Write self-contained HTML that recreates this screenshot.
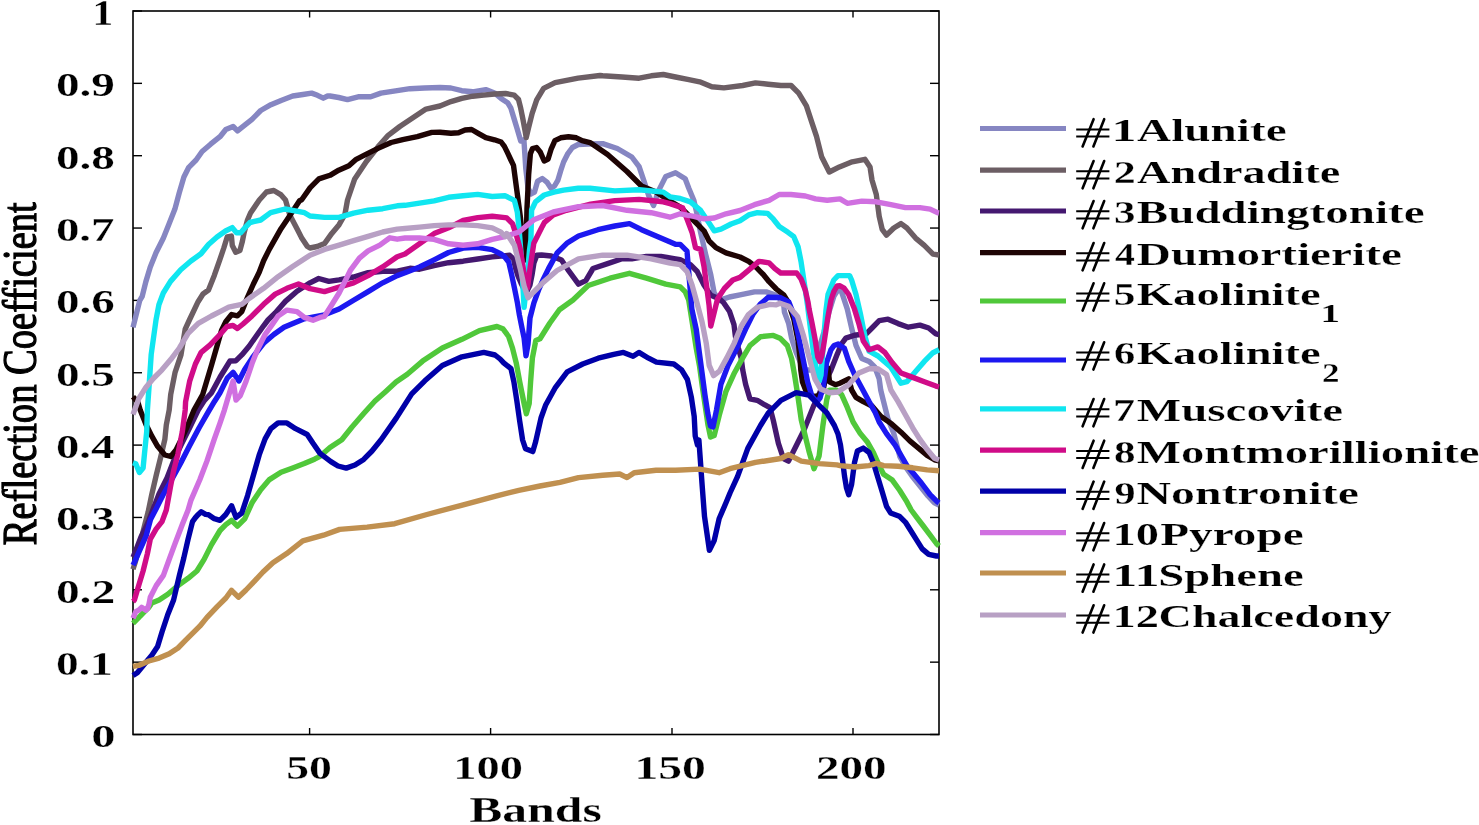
<!DOCTYPE html>
<html><head><meta charset="utf-8"><style>
html,body{margin:0;padding:0;background:#fff;}
svg{display:block;will-change:transform;}
text{font-family:"Liberation Serif",serif;}
</style></head><body>
<svg width="1479" height="825" viewBox="0 0 1479 825">
<rect width="1479" height="825" fill="#fff"/>
<rect x="133.0" y="11.0" width="806.0" height="723.5" fill="none" stroke="#000" stroke-width="1.6"/>
<line x1="309.60" y1="734.5" x2="309.60" y2="728.0" stroke="#000" stroke-width="1.4"/>
<line x1="309.60" y1="11.0" x2="309.60" y2="17.5" stroke="#000" stroke-width="1.4"/>
<line x1="490.60" y1="734.5" x2="490.60" y2="728.0" stroke="#000" stroke-width="1.4"/>
<line x1="490.60" y1="11.0" x2="490.60" y2="17.5" stroke="#000" stroke-width="1.4"/>
<line x1="672.00" y1="734.5" x2="672.00" y2="728.0" stroke="#000" stroke-width="1.4"/>
<line x1="672.00" y1="11.0" x2="672.00" y2="17.5" stroke="#000" stroke-width="1.4"/>
<line x1="853.00" y1="734.5" x2="853.00" y2="728.0" stroke="#000" stroke-width="1.4"/>
<line x1="853.00" y1="11.0" x2="853.00" y2="17.5" stroke="#000" stroke-width="1.4"/>
<line x1="133.0" y1="734.50" x2="142.0" y2="734.50" stroke="#000" stroke-width="1.4"/>
<line x1="939.0" y1="734.50" x2="930.0" y2="734.50" stroke="#000" stroke-width="1.4"/>
<line x1="133.0" y1="662.15" x2="142.0" y2="662.15" stroke="#000" stroke-width="1.4"/>
<line x1="939.0" y1="662.15" x2="930.0" y2="662.15" stroke="#000" stroke-width="1.4"/>
<line x1="133.0" y1="589.80" x2="142.0" y2="589.80" stroke="#000" stroke-width="1.4"/>
<line x1="939.0" y1="589.80" x2="930.0" y2="589.80" stroke="#000" stroke-width="1.4"/>
<line x1="133.0" y1="517.45" x2="142.0" y2="517.45" stroke="#000" stroke-width="1.4"/>
<line x1="939.0" y1="517.45" x2="930.0" y2="517.45" stroke="#000" stroke-width="1.4"/>
<line x1="133.0" y1="445.10" x2="142.0" y2="445.10" stroke="#000" stroke-width="1.4"/>
<line x1="939.0" y1="445.10" x2="930.0" y2="445.10" stroke="#000" stroke-width="1.4"/>
<line x1="133.0" y1="372.75" x2="142.0" y2="372.75" stroke="#000" stroke-width="1.4"/>
<line x1="939.0" y1="372.75" x2="930.0" y2="372.75" stroke="#000" stroke-width="1.4"/>
<line x1="133.0" y1="300.40" x2="142.0" y2="300.40" stroke="#000" stroke-width="1.4"/>
<line x1="939.0" y1="300.40" x2="930.0" y2="300.40" stroke="#000" stroke-width="1.4"/>
<line x1="133.0" y1="228.05" x2="142.0" y2="228.05" stroke="#000" stroke-width="1.4"/>
<line x1="939.0" y1="228.05" x2="930.0" y2="228.05" stroke="#000" stroke-width="1.4"/>
<line x1="133.0" y1="155.70" x2="142.0" y2="155.70" stroke="#000" stroke-width="1.4"/>
<line x1="939.0" y1="155.70" x2="930.0" y2="155.70" stroke="#000" stroke-width="1.4"/>
<line x1="133.0" y1="83.35" x2="142.0" y2="83.35" stroke="#000" stroke-width="1.4"/>
<line x1="939.0" y1="83.35" x2="930.0" y2="83.35" stroke="#000" stroke-width="1.4"/>
<line x1="133.0" y1="11.00" x2="142.0" y2="11.00" stroke="#000" stroke-width="1.4"/>
<line x1="939.0" y1="11.00" x2="930.0" y2="11.00" stroke="#000" stroke-width="1.4"/>
<path d="M133.0,327.3 L139.7,300.6 L142.2,296.4 L145.8,281.9 L150.2,267.3 L156.0,252.8 L163.3,238.2 L169.1,223.7 L174.9,209.1 L179.2,193.0 L183.9,177.0 L188.8,167.3 L196.1,160.0 L202.1,151.5 L210.6,144.2 L220.0,136.7 L225.8,129.5 L233.1,126.5 L237.5,130.9 L244.7,125.1 L252.0,119.3 L260.7,110.5 L270.9,104.7 L281.1,100.4 L292.7,96.0 L302.9,94.5 L311.6,93.1 L317.5,95.3 L323.3,98.2 L327.6,96.0 L330.0,96.0 L338.7,97.5 L347.5,99.6 L359.1,96.7 L370.7,96.7 L380.9,93.1 L395.5,90.9 L410.0,88.7 L424.5,88.0 L440.0,87.5 L450.9,88.0 L461.8,90.7 L472.7,91.8 L485.8,89.6 L494.5,92.9 L501.1,98.4 L507.6,102.7 L510.9,108.2 L514.2,119.1 L517.5,130.0 L520.7,140.9 L523.9,139.7 L525.8,168.8 L528.0,188.0 L531.0,194.0 L534.5,192.1 L537.5,181.4 L542.3,178.5 L547.2,182.4 L551.0,188.2 L554.5,186.0 L557.8,180.4 L560.7,170.7 L563.6,162.0 L567.5,154.2 L572.4,147.5 L578.2,144.5 L587.9,144.0 L602.7,143.6 L617.3,148.5 L631.8,157.0 L639.1,166.7 L644.0,181.2 L648.8,195.8 L653.6,205.5 L658.5,190.9 L665.8,176.4 L675.5,172.7 L685.2,178.8 L688.7,188.0 L693.8,200.2 L697.0,214.0 L700.6,232.5 L705.7,254.5 L710.8,274.9 L714.2,293.0 L719.3,300.4 L729.4,297.0 L740.0,294.8 L754.5,291.9 L766.2,291.9 L774.9,294.8 L781.0,300.0 L783.4,301.1 L784.4,312.0 L788.7,323.6 L791.6,338.2 L796.0,352.0 L801.0,364.0 L806.0,370.0 L811.0,370.0 L816.0,360.0 L820.0,345.0 L824.0,332.0 L829.0,312.0 L834.0,296.0 L838.5,289.0 L841.5,291.6 L847.3,309.1 L851.6,328.0 L856.0,345.4 L861.8,358.5 L869.1,361.4 L874.9,367.2 L879.2,378.8 L880.7,390.0 L883.6,401.6 L888.0,419.1 L893.8,433.6 L900.0,457.0 L906.0,467.5 L912.0,476.0 L920.0,486.0 L928.0,496.0 L934.0,502.5 L939.0,505.0" fill="none" stroke="#8686c2" stroke-width="5.4" stroke-linejoin="round" stroke-linecap="butt"/>
<path d="M133.0,569.3 L135.0,563.0 L138.5,550.0 L142.0,536.0 L145.0,524.0 L148.2,511.7 L151.8,494.3 L156.2,475.4 L160.5,458.0 L164.9,439.1 L166.3,425.0 L169.2,410.0 L170.7,394.5 L175.0,372.7 L180.9,355.2 L185.2,329.1 L189.4,320.0 L198.1,301.7 L203.0,294.0 L208.5,290.0 L214.4,275.2 L219.5,260.7 L223.8,248.0 L227.2,237.0 L231.4,236.1 L232.3,245.5 L235.7,252.3 L239.9,250.6 L242.4,241.2 L244.1,232.7 L247.5,220.0 L250.5,213.0 L259.3,200.0 L266.5,192.0 L273.8,190.5 L281.1,194.9 L285.5,200.0 L289.8,215.0 L297.0,228.7 L301.4,237.4 L307.2,246.2 L310.0,248.0 L317.3,246.5 L324.5,243.6 L331.8,233.4 L339.1,224.7 L344.9,214.5 L347.5,200.0 L354.7,178.9 L366.4,161.5 L378.0,146.9 L388.2,135.3 L399.8,126.5 L412.9,117.8 L426.0,109.1 L440.0,106.0 L450.9,101.6 L461.8,98.4 L472.7,96.2 L483.6,95.1 L494.5,94.0 L505.5,93.5 L514.2,95.1 L518.5,99.5 L520.7,108.2 L522.9,119.1 L525.1,131.1 L526.2,137.6 L528.6,127.6 L532.1,113.7 L536.7,99.9 L543.6,88.4 L555.1,82.7 L578.1,78.1 L600.0,75.5 L602.7,75.8 L622.1,77.0 L639.1,78.2 L651.2,75.8 L663.3,74.5 L675.5,77.0 L687.6,79.4 L699.7,81.8 L711.8,86.7 L723.9,87.9 L742.7,85.5 L755.5,82.9 L768.2,84.2 L780.9,85.5 L791.1,85.5 L798.7,93.1 L806.4,105.8 L811.4,121.1 L816.5,136.4 L821.6,156.7 L829.3,172.0 L839.4,166.9 L852.2,161.8 L864.9,159.3 L870.0,166.9 L872.0,180.0 L876.3,194.5 L879.2,216.3 L882.2,229.4 L886.5,235.2 L893.8,228.0 L901.0,223.6 L906.9,228.0 L915.6,238.1 L924.3,245.4 L933.0,254.1 L939.0,255.0" fill="none" stroke="#6c5e64" stroke-width="5.4" stroke-linejoin="round" stroke-linecap="butt"/>
<path d="M133.0,557.2 L136.0,550.0 L141.0,537.0 L146.0,527.0 L149.0,520.0 L154.0,507.0 L159.0,494.0 L163.0,486.0 L167.0,478.0 L174.0,460.0 L181.0,445.0 L190.0,427.0 L198.2,410.0 L204.0,401.0 L211.4,393.0 L220.1,377.0 L230.0,361.0 L236.0,360.7 L241.8,354.9 L249.1,346.2 L256.3,336.0 L263.6,325.8 L268.0,320.0 L275.2,313.0 L285.4,301.4 L297.0,291.2 L310.0,282.8 L318.7,278.5 L328.9,281.4 L339.1,279.9 L353.6,277.0 L368.1,272.7 L382.7,271.2 L397.2,271.2 L410.0,268.3 L419.5,269.2 L434.1,265.6 L448.6,262.7 L463.1,261.2 L477.7,259.0 L492.2,256.9 L500.9,256.1 L509.7,255.3 L513.6,259.2 L515.5,268.0 L518.0,276.0 L521.0,283.0 L524.0,289.0 L527.0,291.0 L530.0,285.0 L532.0,275.0 L533.9,263.0 L536.8,255.3 L541.6,255.0 L551.3,256.0 L561.5,260.0 L568.8,270.9 L578.5,284.2 L585.8,280.6 L593.0,268.5 L607.6,263.6 L622.1,258.8 L631.8,258.8 L646.4,256.4 L660.9,256.4 L675.5,258.8 L680.2,259.6 L690.4,264.7 L697.2,271.5 L704.0,285.1 L710.8,295.3 L719.3,298.7 L723.8,302.9 L729.6,311.6 L734.0,324.7 L735.4,336.3 L738.3,348.0 L741.2,358.1 L742.7,369.8 L745.6,384.3 L749.9,398.8 L757.2,400.3 L764.5,404.7 L770.0,407.6 L773.3,420.4 L778.4,443.3 L783.4,458.5 L788.5,461.1 L796.2,445.8 L803.8,430.5 L808.9,417.8 L814.0,405.1 L820.0,392.0 L830.9,370.2 L836.7,355.6 L841.5,344.0 L845.8,338.1 L854.5,335.2 L866.2,333.8 L872.0,328.0 L879.2,320.7 L888.0,319.2 L898.1,323.6 L908.3,327.2 L919.9,325.1 L928.7,328.0 L935.9,333.8 L939.0,334.5" fill="none" stroke="#441870" stroke-width="5.4" stroke-linejoin="round" stroke-linecap="butt"/>
<path d="M133.0,396.8 L138.0,402.6 L140.2,410.0 L146.0,424.5 L151.8,436.2 L157.6,446.3 L164.9,455.0 L170.7,456.5 L176.0,450.0 L181.0,440.0 L187.0,427.0 L194.0,410.0 L202.7,394.5 L211.4,365.4 L221.5,330.5 L225.8,321.7 L231.6,314.5 L237.4,315.9 L241.8,311.6 L247.6,297.0 L253.4,284.0 L259.2,272.3 L263.6,260.7 L269.4,249.1 L275.2,238.9 L281.0,228.7 L286.9,220.0 L299.7,200.6 L301.5,200.0 L310.2,187.6 L318.9,178.9 L330.0,175.3 L338.7,170.2 L348.9,165.8 L356.2,159.3 L366.4,154.2 L378.0,148.4 L391.1,142.5 L402.7,139.6 L417.3,136.7 L431.8,132.4 L440.0,132.2 L450.9,133.3 L458.5,132.7 L465.1,130.0 L471.6,129.5 L478.2,133.3 L485.8,137.6 L494.5,139.8 L501.1,142.0 L504.4,146.4 L507.6,152.9 L510.9,160.0 L513.5,165.4 L516.9,190.8 L520.3,216.3 L522.8,241.7 L524.5,258.6 L525.3,260.0 L526.2,241.7 L527.0,207.8 L528.7,173.9 L530.4,153.6 L532.5,148.5 L536.5,147.5 L540.4,152.3 L544.2,161.0 L548.1,159.1 L551.0,149.4 L554.9,140.7 L560.7,137.8 L568.5,136.8 L576.3,137.8 L582.1,140.7 L590.0,142.6 L607.6,154.5 L627.0,171.5 L641.5,186.0 L656.0,192.0 L670.0,201.0 L680.2,207.0 L688.7,215.5 L697.2,224.0 L704.0,230.8 L709.1,241.0 L715.9,247.7 L726.0,252.8 L740.0,257.0 L748.7,261.4 L756.0,267.2 L763.3,274.5 L769.1,281.7 L776.3,289.0 L783.6,294.8 L788.0,301.6 L793.8,319.1 L798.1,340.9 L800.0,358.0 L800.8,370.0 L802.5,382.0 L806.0,391.0 L812.0,396.5 L818.0,396.0 L823.0,391.0 L826.5,372.0 L828.0,368.0 L829.5,381.8 L835.3,384.7 L840.0,383.2 L848.7,378.8 L851.6,390.0 L856.0,397.3 L863.3,401.6 L872.0,406.0 L880.7,416.2 L890.9,423.4 L901.0,432.2 L909.8,440.9 L918.5,448.1 L927.2,455.4 L934.5,459.8 L939.0,461.0" fill="none" stroke="#1e0404" stroke-width="5.4" stroke-linejoin="round" stroke-linecap="butt"/>
<path d="M133.0,623.3 L138.7,617.6 L140.2,616.0 L144.5,611.7 L148.9,607.3 L151.8,603.0 L159.1,600.0 L167.8,594.3 L178.0,585.6 L188.1,578.3 L196.9,571.0 L204.1,559.4 L211.4,544.9 L220.0,530.5 L225.8,524.7 L231.6,520.3 L237.4,526.1 L244.7,518.8 L252.0,502.8 L260.7,489.8 L269.4,479.6 L281.0,472.3 L292.7,468.0 L304.3,463.6 L314.5,459.2 L320.0,456.3 L330.0,447.5 L341.8,439.7 L352.0,427.0 L363.7,413.5 L375.0,401.0 L385.5,391.7 L396.0,382.0 L407.3,374.2 L422.6,361.1 L442.3,348.0 L461.9,339.3 L479.4,330.6 L497.0,326.5 L502.8,328.7 L508.6,336.5 L512.5,348.2 L516.4,363.7 L519.7,381.8 L524.1,403.6 L526.3,413.8 L529.2,403.6 L530.6,381.8 L532.4,358.0 L535.8,340.4 L540.0,338.8 L549.7,323.3 L559.4,309.7 L573.0,300.0 L588.2,285.5 L610.0,278.2 L629.4,273.3 L646.4,278.2 L665.8,284.2 L680.2,286.8 L685.3,291.9 L688.7,300.0 L693.3,329.1 L696.2,348.0 L699.5,366.0 L702.5,388.0 L705.5,408.0 L708.0,425.0 L710.5,437.0 L714.2,435.5 L719.3,415.1 L726.0,391.3 L734.5,372.7 L743.0,357.4 L750.0,345.5 L760.5,336.7 L773.3,335.4 L780.0,338.2 L787.3,345.5 L791.6,358.5 L794.5,374.5 L797.5,393.5 L801.3,420.0 L808.9,450.9 L814.0,468.7 L819.1,456.0 L822.9,425.5 L826.7,400.0 L829.3,390.2 L836.9,390.2 L841.5,394.4 L847.3,407.4 L853.1,422.0 L860.3,433.6 L867.6,442.3 L873.4,452.5 L879.2,465.6 L883.6,474.3 L892.3,480.1 L899.6,490.3 L906.9,501.9 L911.2,510.0 L916.7,517.3 L923.3,526.0 L929.8,534.7 L936.4,543.5 L939.0,546.0" fill="none" stroke="#50c83a" stroke-width="5.4" stroke-linejoin="round" stroke-linecap="butt"/>
<path d="M133.0,565.1 L134.4,562.3 L140.2,549.2 L146.0,536.2 L150.5,519.5 L156.0,509.0 L163.0,495.0 L172.0,479.0 L180.5,463.5 L188.9,447.0 L199.0,428.0 L208.4,411.7 L214.3,401.7 L220.0,392.7 L227.3,378.1 L233.1,372.3 L238.9,381.0 L244.7,369.4 L253.4,356.3 L263.6,343.3 L273.8,334.5 L284.0,327.3 L294.1,322.9 L304.3,318.8 L310.0,317.7 L324.5,314.8 L339.1,309.0 L353.6,300.3 L368.1,291.6 L382.7,282.8 L397.2,275.6 L405.0,272.8 L419.5,267.0 L434.1,259.8 L448.6,252.5 L463.1,248.1 L477.7,247.4 L492.2,249.6 L500.9,254.0 L504.8,257.0 L508.7,262.0 L511.6,274.5 L514.5,288.3 L517.4,302.8 L519.4,315.0 L522.0,328.0 L524.1,338.0 L526.0,355.9 L528.0,344.3 L530.0,318.0 L533.9,302.8 L538.8,289.3 L543.6,278.6 L548.4,268.9 L557.1,253.0 L566.8,243.3 L578.5,236.0 L597.9,229.7 L614.8,226.0 L629.4,223.6 L641.5,229.7 L658.5,237.0 L675.5,244.2 L680.2,244.4 L687.0,251.1 L691.8,308.7 L696.2,329.1 L699.1,350.9 L702.0,372.7 L704.9,394.5 L707.8,413.4 L710.5,426.0 L713.0,427.0 L716.5,410.0 L720.9,384.3 L728.1,365.4 L736.9,348.0 L745.6,329.1 L752.8,314.5 L760.1,304.4 L768.2,297.3 L780.0,297.5 L788.7,301.8 L794.5,316.4 L798.9,338.2 L803.3,360.0 L807.6,381.8 L812.0,396.4 L817.0,402.0 L820.0,398.0 L823.6,384.7 L826.5,362.9 L830.9,349.8 L834.0,345.5 L838.2,344.0 L840.0,345.4 L844.4,348.3 L848.7,361.4 L854.5,374.5 L861.8,388.0 L869.1,401.6 L874.9,411.8 L879.2,422.0 L886.5,433.6 L895.2,445.2 L901.0,455.4 L906.9,465.6 L914.1,474.3 L921.4,483.0 L930.1,494.7 L937.4,501.9 L939.0,503.0" fill="none" stroke="#1c18f0" stroke-width="5.4" stroke-linejoin="round" stroke-linecap="butt"/>
<path d="M133.0,462.8 L135.8,463.8 L139.4,472.5 L143.1,468.1 L144.5,453.6 L146.7,431.8 L147.4,410.0 L149.0,387.3 L151.2,354.5 L156.0,320.0 L158.9,304.7 L163.3,293.0 L170.5,281.4 L180.7,269.8 L190.9,261.0 L201.0,253.8 L208.5,244.5 L217.0,237.0 L225.5,231.0 L232.3,227.6 L236.5,232.7 L240.7,232.7 L245.8,226.8 L250.0,222.5 L260.7,220.0 L270.6,212.7 L285.0,209.0 L304.5,212.7 L310.0,216.0 L324.5,217.4 L339.1,217.4 L353.6,213.1 L368.1,210.2 L382.7,208.7 L397.2,205.8 L405.0,205.3 L419.5,203.1 L434.1,200.9 L448.6,197.3 L463.1,195.8 L477.7,194.4 L492.2,196.5 L505.0,195.8 L506.7,196.5 L514.4,200.4 L517.3,212.0 L519.3,231.5 L521.5,260.0 L524.1,307.4 L527.0,280.0 L529.5,250.0 L530.9,240.0 L531.6,210.0 L535.5,201.8 L544.2,195.0 L553.9,192.1 L563.6,190.1 L578.2,188.2 L590.0,188.2 L614.8,190.9 L639.1,189.7 L663.3,192.1 L670.0,196.8 L680.2,198.5 L690.4,201.9 L700.6,210.4 L707.4,220.6 L714.2,230.8 L721.0,229.1 L731.1,224.0 L740.0,220.7 L748.7,214.9 L757.4,212.7 L767.6,213.4 L773.4,219.2 L779.2,226.5 L788.0,232.3 L793.8,236.7 L798.1,246.9 L801.0,261.4 L803.2,275.9 L805.4,290.5 L807.5,305.0 L810.0,325.0 L813.5,352.7 L816.5,370.0 L819.3,381.0 L821.0,375.0 L823.6,340.0 L826.0,310.0 L828.0,294.5 L833.8,280.0 L838.0,275.6 L842.0,275.6 L849.6,275.6 L851.6,280.0 L856.0,294.5 L860.3,313.4 L864.7,335.2 L869.1,351.2 L878.0,356.0 L890.9,367.2 L901.0,383.2 L906.9,381.7 L915.6,371.6 L924.3,361.4 L933.0,352.7 L939.0,349.8" fill="none" stroke="#10e6f0" stroke-width="5.4" stroke-linejoin="round" stroke-linecap="butt"/>
<path d="M133.0,601.5 L134.4,600.1 L138.7,585.6 L143.1,571.0 L147.4,553.6 L150.3,539.1 L156.2,528.9 L162.0,521.6 L166.3,510.0 L170.7,485.6 L173.6,471.0 L178.0,453.6 L182.3,431.8 L185.2,410.0 L185.6,401.7 L189.6,381.4 L195.4,364.0 L201.2,352.3 L209.9,345.1 L220.0,334.5 L227.0,326.5 L233.0,325.5 L237.4,328.5 L243.0,324.0 L252.0,315.9 L263.6,304.3 L275.2,294.1 L286.9,288.3 L298.5,284.0 L310.0,288.7 L324.5,291.6 L339.1,287.2 L353.6,282.8 L368.1,275.6 L382.7,266.9 L397.2,256.7 L405.0,254.0 L419.5,243.8 L434.1,233.6 L448.6,227.8 L463.1,220.5 L477.7,217.6 L492.2,216.2 L505.0,217.6 L506.7,217.9 L512.5,223.7 L516.4,235.3 L520.2,249.0 L523.5,270.0 L526.0,286.0 L527.5,288.0 L530.0,268.5 L533.8,243.3 L541.6,227.8 L544.5,222.4 L553.3,215.0 L566.4,210.3 L590.6,204.2 L614.8,200.6 L639.1,199.4 L663.3,201.8 L670.0,203.6 L682.7,207.9 L687.0,218.9 L692.1,232.5 L695.5,247.7 L700.6,249.4 L704.0,266.4 L706.5,285.1 L709.1,305.5 L710.8,326.0 L714.2,312.3 L717.6,298.7 L724.4,288.5 L732.8,280.0 L740.0,277.4 L748.7,270.1 L758.9,261.4 L769.1,262.8 L774.9,268.7 L780.7,273.0 L789.4,273.0 L796.7,273.0 L801.0,278.8 L805.4,290.5 L808.0,302.0 L809.1,309.1 L812.0,323.0 L814.9,338.2 L817.8,357.1 L820.0,361.5 L822.0,355.0 L823.6,345.5 L828.0,316.4 L831.0,300.0 L833.8,291.6 L837.0,286.0 L840.0,285.8 L844.0,288.0 L848.7,294.5 L854.5,309.1 L858.9,323.6 L863.3,341.0 L869.1,349.8 L877.8,346.9 L885.1,352.7 L892.3,362.8 L901.0,373.0 L912.7,377.4 L924.3,381.7 L935.9,386.1 L939.0,387.0" fill="none" stroke="#d00c88" stroke-width="5.4" stroke-linejoin="round" stroke-linecap="butt"/>
<path d="M133.0,675.5 L137.3,672.7 L144.5,664.0 L151.8,655.2 L157.6,646.5 L162.0,632.0 L167.8,614.5 L173.6,600.0 L179.4,575.4 L183.8,558.0 L188.1,539.1 L192.5,521.6 L195.4,517.6 L198.3,514.4 L201.2,511.7 L205.6,514.4 L208.5,514.7 L214.3,518.7 L220.0,520.3 L225.8,514.5 L231.6,505.8 L236.0,517.4 L241.8,513.0 L247.6,495.6 L253.4,475.2 L259.2,454.9 L265.1,438.9 L270.9,428.7 L278.1,422.9 L286.9,422.9 L295.6,428.7 L307.2,434.5 L313.0,443.3 L320.0,453.4 L330.9,461.6 L338.0,466.0 L346.2,468.1 L355.0,465.0 L363.7,459.4 L372.0,451.0 L381.1,439.7 L396.4,417.9 L411.7,393.9 L424.8,380.8 L442.3,365.5 L461.9,356.8 L483.8,352.4 L495.0,355.0 L500.1,359.0 L503.7,362.9 L511.0,368.7 L513.9,381.8 L516.8,400.7 L519.7,421.1 L522.6,440.0 L525.5,448.7 L532.8,451.6 L535.7,441.5 L538.3,430.0 L541.0,418.0 L545.8,404.7 L555.5,387.3 L567.2,371.8 L582.7,364.0 L598.2,358.2 L613.7,354.3 L623.4,352.4 L633.1,356.2 L638.9,352.4 L648.6,358.2 L656.4,362.1 L673.8,364.0 L681.6,369.8 L687.4,379.5 L691.3,397.0 L694.2,416.4 L695.2,435.8 L697.5,445.0 L698.9,440.0 L702.1,484.8 L704.5,516.4 L709.4,550.3 L714.2,540.6 L719.1,518.8 L726.4,501.8 L730.0,493.0 L737.6,476.4 L747.8,448.4 L760.5,425.5 L768.2,413.1 L780.9,400.3 L796.2,392.7 L808.9,395.2 L819.1,405.4 L826.7,412.7 L834.4,425.5 L838.0,434.0 L840.5,445.0 L842.5,460.0 L844.5,476.0 L846.5,488.0 L848.7,494.7 L851.6,484.5 L854.5,462.7 L857.4,451.0 L863.3,448.1 L869.1,452.5 L873.4,462.7 L877.8,477.2 L882.2,491.7 L886.5,506.3 L890.6,512.9 L899.3,516.2 L905.8,522.7 L911.3,531.5 L916.7,540.2 L922.2,548.9 L928.7,554.4 L936.4,556.0 L939.0,556.0" fill="none" stroke="#0000a8" stroke-width="5.4" stroke-linejoin="round" stroke-linecap="butt"/>
<path d="M133.0,618.3 L135.8,611.7 L138.7,610.2 L141.6,607.4 L146.0,610.2 L147.4,608.8 L148.9,604.4 L150.3,597.2 L156.2,585.6 L163.4,575.4 L169.2,559.4 L175.1,543.4 L182.3,524.5 L188.1,510.0 L191.0,500.1 L199.8,479.8 L207.0,460.9 L214.3,439.1 L220.0,423.2 L224.4,410.1 L228.7,395.6 L233.1,381.0 L236.0,400.0 L240.3,395.6 L246.2,381.0 L252.0,363.6 L257.8,349.1 L265.1,334.5 L272.3,324.4 L278.1,315.9 L286.9,310.1 L297.0,311.6 L304.3,317.4 L313.0,320.3 L320.0,317.4 L324.5,316.3 L331.8,304.7 L339.1,293.0 L344.9,281.4 L350.7,269.8 L359.4,258.1 L368.1,250.9 L379.8,245.1 L389.9,237.8 L397.2,239.2 L405.0,238.0 L419.5,238.0 L434.1,239.4 L448.6,243.8 L463.1,245.2 L477.7,243.8 L492.2,239.4 L505.0,236.5 L519.0,232.0 L533.8,219.8 L553.3,212.0 L578.5,206.7 L602.7,205.5 L627.0,210.3 L651.2,212.7 L670.0,217.2 L680.2,213.8 L693.8,216.3 L704.0,218.9 L714.2,218.0 L726.0,213.8 L740.0,210.5 L754.5,204.7 L769.1,200.3 L779.2,194.5 L790.9,194.5 L805.4,196.0 L815.6,198.9 L827.2,200.3 L840.0,198.9 L847.3,203.3 L861.8,201.1 L876.3,201.8 L890.9,204.7 L905.4,207.6 L919.9,207.6 L930.1,209.1 L937.4,212.7 L939.0,213.0" fill="none" stroke="#d070e0" stroke-width="5.4" stroke-linejoin="round" stroke-linecap="butt"/>
<path d="M133.0,666.4 L138.7,665.4 L148.9,661.0 L159.1,658.1 L169.2,653.8 L178.0,648.0 L185.2,640.7 L192.5,633.4 L199.8,626.2 L207.0,617.4 L217.2,606.6 L225.9,598.0 L231.5,590.3 L238.4,597.2 L246.0,590.0 L254.5,581.1 L263.0,572.0 L272.9,562.8 L286.7,553.6 L302.8,540.9 L323.5,535.2 L339.6,529.4 L367.1,527.1 L394.7,523.7 L426.9,514.5 L461.4,505.3 L495.8,496.1 L518.8,490.3 L540.0,486.0 L560.0,482.3 L578.5,477.6 L602.7,475.2 L619.7,474.0 L627.0,477.6 L634.2,472.7 L656.0,470.3 L675.5,470.3 L699.7,469.1 L719.1,472.7 L730.0,468.7 L755.5,462.4 L780.9,458.5 L788.5,454.7 L801.3,461.1 L819.1,463.6 L836.9,464.9 L840.0,465.6 L854.5,467.0 L869.1,465.6 L876.3,463.4 L883.6,465.6 L898.1,466.3 L912.7,467.8 L927.2,469.9 L939.0,470.7" fill="none" stroke="#c09050" stroke-width="5.4" stroke-linejoin="round" stroke-linecap="butt"/>
<path d="M133.0,414.5 L138.7,398.8 L146.0,387.2 L153.3,378.5 L162.0,369.8 L170.7,359.6 L179.4,348.0 L188.1,333.4 L198.3,323.3 L211.4,316.0 L220.0,311.6 L228.7,307.2 L234.5,305.8 L241.8,304.3 L249.1,298.5 L263.6,288.3 L278.1,276.7 L292.7,266.5 L310.0,255.2 L324.5,249.4 L339.1,245.1 L353.6,240.7 L368.1,236.3 L382.7,232.0 L397.2,229.1 L405.0,228.5 L419.5,227.1 L434.1,225.6 L448.6,224.9 L463.1,224.9 L477.7,225.6 L492.2,227.8 L500.9,232.2 L505.0,236.5 L506.7,233.6 L514.4,245.2 L520.2,268.5 L524.1,286.0 L528.0,297.7 L533.8,291.8 L543.5,282.1 L557.1,270.5 L578.5,258.8 L602.7,255.2 L627.0,255.2 L651.2,258.8 L670.0,263.0 L680.2,264.7 L687.0,271.5 L692.1,285.1 L696.2,300.0 L702.0,321.8 L706.3,343.6 L709.2,365.4 L713.6,375.6 L719.4,371.2 L726.7,358.1 L734.0,343.6 L741.2,326.2 L748.5,314.5 L757.2,307.3 L770.0,304.4 L775.8,304.9 L780.0,303.3 L788.7,306.2 L797.5,316.4 L803.3,335.3 L809.1,357.1 L814.9,378.9 L820.7,389.1 L829.5,392.7 L838.2,392.0 L840.0,390.5 L848.7,384.7 L858.9,373.0 L869.1,368.7 L877.8,368.7 L886.5,374.5 L890.9,390.0 L898.1,401.6 L905.4,414.7 L912.7,427.8 L919.9,439.4 L927.2,449.6 L934.5,458.3 L939.0,460.0" fill="none" stroke="#b8a0c4" stroke-width="5.4" stroke-linejoin="round" stroke-linecap="butt"/>
<text transform="translate(55.99,674.95) scale(0.4534,0.3333)" font-size="100" font-weight="bold" fill="#000" stroke="#fff" stroke-width="0.76" >0.1</text>
<text transform="translate(55.90,602.60) scale(0.4744,0.3333)" font-size="100" font-weight="bold" fill="#000" stroke="#fff" stroke-width="0.74" >0.2</text>
<text transform="translate(55.91,530.25) scale(0.4723,0.3333)" font-size="100" font-weight="bold" fill="#000" stroke="#fff" stroke-width="0.74" >0.3</text>
<text transform="translate(55.93,457.90) scale(0.4664,0.3333)" font-size="100" font-weight="bold" fill="#000" stroke="#fff" stroke-width="0.75" >0.4</text>
<text transform="translate(55.91,385.55) scale(0.4723,0.3333)" font-size="100" font-weight="bold" fill="#000" stroke="#fff" stroke-width="0.74" >0.5</text>
<text transform="translate(55.92,313.20) scale(0.4703,0.3333)" font-size="100" font-weight="bold" fill="#000" stroke="#fff" stroke-width="0.75" >0.6</text>
<text transform="translate(55.93,240.85) scale(0.4684,0.3333)" font-size="100" font-weight="bold" fill="#000" stroke="#fff" stroke-width="0.75" >0.7</text>
<text transform="translate(55.91,168.50) scale(0.4723,0.3333)" font-size="100" font-weight="bold" fill="#000" stroke="#fff" stroke-width="0.74" >0.8</text>
<text transform="translate(55.91,96.15) scale(0.4723,0.3333)" font-size="100" font-weight="bold" fill="#000" stroke="#fff" stroke-width="0.74" >0.9</text>
<text transform="translate(92.49,24.60) scale(0.4135,0.3485)" font-size="100" font-weight="bold" fill="#000" stroke="#fff" stroke-width="0.79" >1</text>
<text transform="translate(91.36,747.00) scale(0.4857,0.3227)" font-size="100" font-weight="bold" fill="#000" stroke="#fff" stroke-width="0.74" >0</text>
<text transform="translate(286.17,778.80) scale(0.4565,0.3455)" font-size="100" font-weight="bold" fill="#000" stroke="#fff" stroke-width="0.75" >50</text>
<text transform="translate(453.29,778.80) scale(0.4638,0.3455)" font-size="100" font-weight="bold" fill="#000" stroke="#fff" stroke-width="0.74" >100</text>
<text transform="translate(634.39,778.80) scale(0.4761,0.3455)" font-size="100" font-weight="bold" fill="#000" stroke="#fff" stroke-width="0.73" >150</text>
<text transform="translate(816.12,778.80) scale(0.4697,0.3455)" font-size="100" font-weight="bold" fill="#000" stroke="#fff" stroke-width="0.74" >200</text>
<text transform="translate(469.26,821.50) scale(0.4966,0.3597)" font-size="100" font-weight="bold" fill="#000" stroke="#fff" stroke-width="0.70" >Bands</text>
<line x1="980" y1="128.5" x2="1066" y2="128.5" stroke="#8686c2" stroke-width="5.2"/>
<path d="M1076.2,129.4H1109.4M1076.2,136.6H1109.4" stroke="#000" stroke-width="2.0" fill="none"/>
<path d="M1093.6,119.2L1082.6,146.5M1104.2,119.2L1093.4,146.5" stroke="#000" stroke-width="2.6" fill="none" stroke-linecap="round"/>
<text transform="translate(1111.50,141.20) scale(0.5000,0.3212)" font-size="100" font-weight="bold" fill="#000" stroke="#fff" stroke-width="0.73" >1</text>
<text transform="translate(1137.03,141.20) scale(0.4727,0.3212)" font-size="100" font-weight="bold" fill="#000" stroke="#fff" stroke-width="0.76" >Alunite</text>
<line x1="980" y1="170.2" x2="1066" y2="170.2" stroke="#6c5e64" stroke-width="5.2"/>
<path d="M1076.2,171.2H1109.4M1076.2,178.4H1109.4" stroke="#000" stroke-width="2.0" fill="none"/>
<path d="M1093.6,161.0L1082.6,188.3M1104.2,161.0L1093.4,188.3" stroke="#000" stroke-width="2.6" fill="none" stroke-linecap="round"/>
<text transform="translate(1113.74,183.00) scale(0.4405,0.3212)" font-size="100" font-weight="bold" fill="#000" stroke="#fff" stroke-width="0.79" >2</text>
<text transform="translate(1137.04,183.00) scale(0.4634,0.3212)" font-size="100" font-weight="bold" fill="#000" stroke="#fff" stroke-width="0.76" >Andradite</text>
<line x1="980" y1="211" x2="1066" y2="211" stroke="#441870" stroke-width="5.2"/>
<path d="M1076.2,211.2H1109.4M1076.2,218.4H1109.4" stroke="#000" stroke-width="2.0" fill="none"/>
<path d="M1093.6,201.0L1082.6,228.3M1104.2,201.0L1093.4,228.3" stroke="#000" stroke-width="2.6" fill="none" stroke-linecap="round"/>
<text transform="translate(1113.99,223.00) scale(0.4302,0.3212)" font-size="100" font-weight="bold" fill="#000" stroke="#fff" stroke-width="0.80" >3</text>
<text transform="translate(1136.79,223.00) scale(0.4711,0.3212)" font-size="100" font-weight="bold" fill="#000" stroke="#fff" stroke-width="0.76" >Buddingtonite</text>
<line x1="980" y1="252.7" x2="1066" y2="252.7" stroke="#1e0404" stroke-width="5.2"/>
<path d="M1076.2,253.2H1109.4M1076.2,260.4H1109.4" stroke="#000" stroke-width="2.0" fill="none"/>
<path d="M1093.6,243.0L1082.6,270.3M1104.2,243.0L1093.4,270.3" stroke="#000" stroke-width="2.6" fill="none" stroke-linecap="round"/>
<text transform="translate(1114.90,265.00) scale(0.3978,0.3212)" font-size="100" font-weight="bold" fill="#000" stroke="#fff" stroke-width="0.83" >4</text>
<text transform="translate(1136.79,265.00) scale(0.4727,0.3212)" font-size="100" font-weight="bold" fill="#000" stroke="#fff" stroke-width="0.76" >Dumortierite</text>
<line x1="980" y1="301" x2="1066" y2="301" stroke="#50c83a" stroke-width="5.2"/>
<path d="M1076.2,293.5H1109.4M1076.2,300.7H1109.4" stroke="#000" stroke-width="2.0" fill="none"/>
<path d="M1093.6,283.3L1082.6,310.6M1104.2,283.3L1093.4,310.6" stroke="#000" stroke-width="2.6" fill="none" stroke-linecap="round"/>
<text transform="translate(1113.76,305.30) scale(0.4353,0.3212)" font-size="100" font-weight="bold" fill="#000" stroke="#fff" stroke-width="0.79" >5</text>
<text transform="translate(1136.80,305.30) scale(0.4666,0.3212)" font-size="100" font-weight="bold" fill="#000" stroke="#fff" stroke-width="0.76" >Kaolinite</text>
<text transform="translate(1320.32,322.00) scale(0.3973,0.2606)" font-size="100" font-weight="bold" fill="#000" stroke="#fff" stroke-width="0.91" >1</text>
<line x1="980" y1="360" x2="1066" y2="360" stroke="#1c18f0" stroke-width="5.2"/>
<path d="M1076.2,352.5H1109.4M1076.2,359.7H1109.4" stroke="#000" stroke-width="2.0" fill="none"/>
<path d="M1093.6,342.3L1082.6,369.6M1104.2,342.3L1093.4,369.6" stroke="#000" stroke-width="2.6" fill="none" stroke-linecap="round"/>
<text transform="translate(1114.01,364.30) scale(0.4253,0.3212)" font-size="100" font-weight="bold" fill="#000" stroke="#fff" stroke-width="0.80" >6</text>
<text transform="translate(1136.80,364.30) scale(0.4666,0.3212)" font-size="100" font-weight="bold" fill="#000" stroke="#fff" stroke-width="0.76" >Kaolinite</text>
<text transform="translate(1322.10,381.80) scale(0.3500,0.2773)" font-size="100" font-weight="bold" fill="#000" stroke="#fff" stroke-width="0.96" >2</text>
<line x1="980" y1="408.8" x2="1066" y2="408.8" stroke="#10e6f0" stroke-width="5.2"/>
<path d="M1076.2,409.2H1109.4M1076.2,416.4H1109.4" stroke="#000" stroke-width="2.0" fill="none"/>
<path d="M1093.6,399.0L1082.6,426.3M1104.2,399.0L1093.4,426.3" stroke="#000" stroke-width="2.6" fill="none" stroke-linecap="round"/>
<text transform="translate(1113.08,421.00) scale(0.4405,0.3212)" font-size="100" font-weight="bold" fill="#000" stroke="#fff" stroke-width="0.79" >7</text>
<text transform="translate(1136.79,421.00) scale(0.4701,0.3212)" font-size="100" font-weight="bold" fill="#000" stroke="#fff" stroke-width="0.76" >Muscovite</text>
<line x1="980" y1="450.2" x2="1066" y2="450.2" stroke="#d00c88" stroke-width="5.2"/>
<path d="M1076.2,450.9H1109.4M1076.2,458.1H1109.4" stroke="#000" stroke-width="2.0" fill="none"/>
<path d="M1093.6,440.7L1082.6,468.0M1104.2,440.7L1093.4,468.0" stroke="#000" stroke-width="2.6" fill="none" stroke-linecap="round"/>
<text transform="translate(1113.99,462.70) scale(0.4302,0.3212)" font-size="100" font-weight="bold" fill="#000" stroke="#fff" stroke-width="0.80" >8</text>
<text transform="translate(1136.80,462.70) scale(0.4674,0.3212)" font-size="100" font-weight="bold" fill="#000" stroke="#fff" stroke-width="0.76" >Montmorillionite</text>
<line x1="980" y1="491.2" x2="1066" y2="491.2" stroke="#0000a8" stroke-width="5.2"/>
<path d="M1076.2,491.8H1109.4M1076.2,499.0H1109.4" stroke="#000" stroke-width="2.0" fill="none"/>
<path d="M1093.6,481.6L1082.6,508.9M1104.2,481.6L1093.4,508.9" stroke="#000" stroke-width="2.6" fill="none" stroke-linecap="round"/>
<text transform="translate(1114.45,503.60) scale(0.4205,0.3212)" font-size="100" font-weight="bold" fill="#000" stroke="#fff" stroke-width="0.81" >9</text>
<text transform="translate(1136.54,503.60) scale(0.4786,0.3212)" font-size="100" font-weight="bold" fill="#000" stroke="#fff" stroke-width="0.75" >Nontronite</text>
<line x1="980" y1="532.6" x2="1066" y2="532.6" stroke="#d070e0" stroke-width="5.2"/>
<path d="M1076.2,533.2H1109.4M1076.2,540.4H1109.4" stroke="#000" stroke-width="2.0" fill="none"/>
<path d="M1093.6,523.0L1082.6,550.3M1104.2,523.0L1093.4,550.3" stroke="#000" stroke-width="2.6" fill="none" stroke-linecap="round"/>
<text transform="translate(1112.48,545.00) scale(0.4648,0.3212)" font-size="100" font-weight="bold" fill="#000" stroke="#fff" stroke-width="0.76" >10</text>
<text transform="translate(1160.19,545.00) scale(0.4727,0.3212)" font-size="100" font-weight="bold" fill="#000" stroke="#fff" stroke-width="0.76" >Pyrope</text>
<line x1="980" y1="573" x2="1066" y2="573" stroke="#c09050" stroke-width="5.2"/>
<path d="M1076.2,574.6H1109.4M1076.2,581.8H1109.4" stroke="#000" stroke-width="2.0" fill="none"/>
<path d="M1093.6,564.4L1082.6,591.7M1104.2,564.4L1093.4,591.7" stroke="#000" stroke-width="2.6" fill="none" stroke-linecap="round"/>
<text transform="translate(1112.19,586.40) scale(0.5018,0.3212)" font-size="100" font-weight="bold" fill="#000" stroke="#fff" stroke-width="0.73" >11</text>
<text transform="translate(1158.33,586.40) scale(0.4672,0.3212)" font-size="100" font-weight="bold" fill="#000" stroke="#fff" stroke-width="0.76" >Sphene</text>
<line x1="980" y1="615" x2="1066" y2="615" stroke="#b8a0c4" stroke-width="5.2"/>
<path d="M1076.2,615.5H1109.4M1076.2,622.7H1109.4" stroke="#000" stroke-width="2.0" fill="none"/>
<path d="M1093.6,605.3L1082.6,632.6M1104.2,605.3L1093.4,632.6" stroke="#000" stroke-width="2.6" fill="none" stroke-linecap="round"/>
<text transform="translate(1112.48,627.30) scale(0.4648,0.3212)" font-size="100" font-weight="bold" fill="#000" stroke="#fff" stroke-width="0.76" >12</text>
<text transform="translate(1158.59,627.30) scale(0.4611,0.3212)" font-size="100" font-weight="bold" fill="#000" stroke="#fff" stroke-width="0.77" >Chalcedony</text>
<text transform="translate(35.91,544) rotate(-90) translate(-1.16,0) scale(0.3857,0.4909)" font-size="100" font-weight="normal" fill="#000" stroke="#000" stroke-width="2.6">Reflection Coefficient</text>
</svg>
</body></html>
